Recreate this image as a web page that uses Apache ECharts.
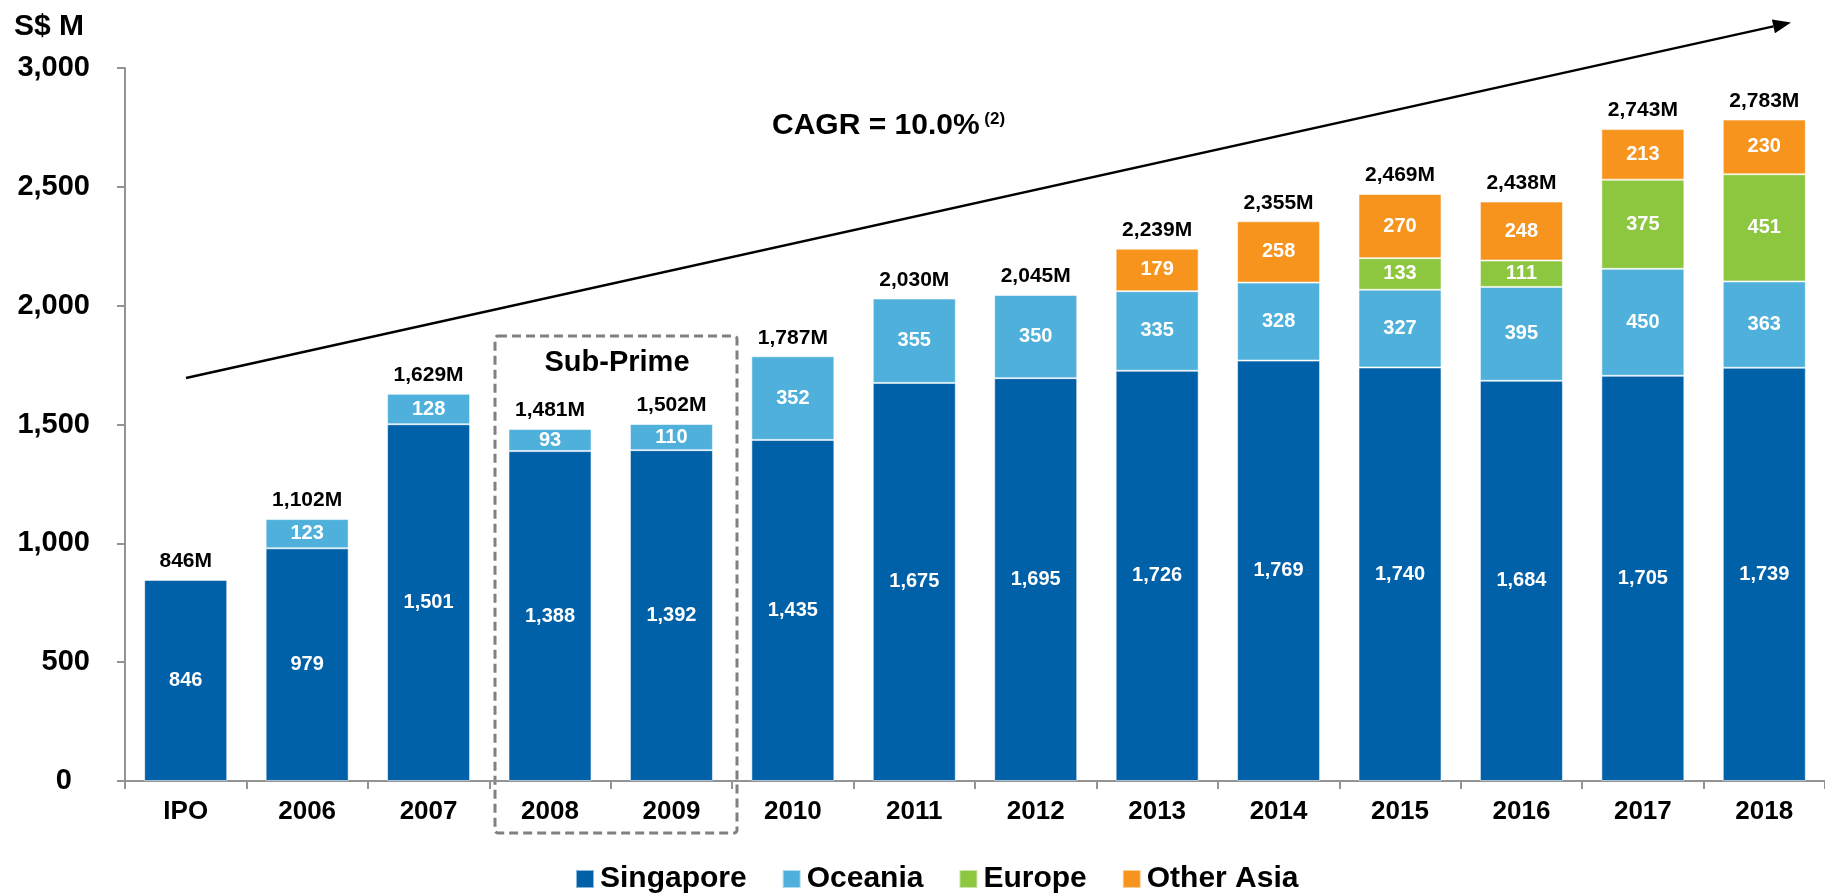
<!DOCTYPE html>
<html>
<head>
<meta charset="utf-8">
<script src="https://cdn.jsdelivr.net/npm/echarts@6/dist/echarts.min.js"></script>
<style>
html,body{margin:0;padding:0;background:#fff;}
#chart{width:1825px;height:893px;}
</style>
</head>
<body>
<div id="chart"></div>
<script>
const categories = ['IPO','2006','2007','2008','2009','2010','2011','2012','2013','2014','2015','2016','2017','2018'];
const singapore = [846, 979, 1501, 1388, 1392, 1435, 1675, 1695, 1726, 1769, 1740, 1684, 1705, 1739];
const oceania   = [null, 123, 128, 93, 110, 352, 355, 350, 335, 328, 327, 395, 450, 363];
const europe    = [null, null, null, null, null, null, null, null, null, null, 133, 111, 375, 451];
const otherAsia = [null, null, null, null, null, null, null, null, 179, 258, 270, 248, 213, 230];
const totals    = [846, 1102, 1629, 1481, 1502, 1787, 2030, 2045, 2239, 2355, 2469, 2438, 2743, 2783];
const yTicks = {min: 0, max: 3000, interval: 500};

const FONT = "'Liberation Sans', Arial, Helvetica, sans-serif";
const colors = {Singapore:'#0061A8', Oceania:'#4FB1DB', Europe:'#8DC63F', 'Other Asia':'#F7941E'};

function fmt(v){ return v.toLocaleString('en-US'); }

const innerLabel = {
  show: true, position: 'inside', color: '#fff', fontFamily: FONT,
  fontWeight: 'bold', fontSize: 20, formatter: p => fmt(p.value)
};
function barSeries(name, data){
  return {
    name, type: 'bar', stack: 'total', data, barWidth: 83,
    itemStyle: {color: colors[name], borderColor: 'rgba(255,255,255,0.55)', borderWidth: 1},
    label: innerLabel, silent: true, emphasis: {disabled: true}
  };
}

const chart = echarts.init(document.getElementById('chart'), null, {renderer: 'canvas'});

// arrow geometry
const A0 = [186, 378], tip = [1791, 22.5];
const dx = tip[0]-A0[0], dy = tip[1]-A0[1], L = Math.hypot(dx, dy);
const ux = dx/L, uy = dy/L, nx = -uy, ny = ux;
const headLen = 18, headHalf = 7;
const base = [tip[0]-headLen*ux, tip[1]-headLen*uy];

chart.setOption({
  animation: false,
  textStyle: {fontFamily: FONT},
  grid: {left: 125, right: -13, top: 68, bottom: 112, containLabel: false},
  legend: {
    data: ['Singapore','Oceania','Europe','Other Asia'],
    left: 570, top: 859, itemWidth: 18, itemHeight: 18, itemGap: 35,
    icon: 'rect', selectedMode: false,
    textStyle: {fontSize: 30, fontWeight: 'bold', color: '#000', fontFamily: FONT, padding: [0,0,0,1]}
  },
  xAxis: {
    type: 'category', data: categories, boundaryGap: true,
    axisLine: {show: true, lineStyle: {color: '#939393', width: 2}},
    axisTick: {show: true, length: 8, interval: 0, alignWithLabel: false, lineStyle: {color: '#939393', width: 2}},
    axisLabel: {interval: 0, margin: 18, color: '#000', fontSize: 26, fontWeight: 'bold', fontFamily: FONT}
  },
  yAxis: {
    type: 'value', min: yTicks.min, max: yTicks.max, interval: yTicks.interval,
    splitLine: {show: false},
    axisLine: {show: true, lineStyle: {color: '#939393', width: 2}},
    axisTick: {show: true, length: 8, lineStyle: {color: '#939393', width: 2}},
    axisLabel: {
      margin: 35, color: '#000', fontSize: 29, fontWeight: 'bold', fontFamily: FONT,
      formatter: v => v === 0 ? '{z|0}' : fmt(v),
      rich: {z: {fontSize: 29, fontWeight: 'bold', color: '#000', fontFamily: FONT, padding: [0, 18, 0, 0]}}
    }
  },
  series: [
    barSeries('Singapore', singapore),
    barSeries('Oceania', oceania),
    barSeries('Europe', europe),
    barSeries('Other Asia', otherAsia),
    {
      name: 'Total', type: 'scatter', data: totals, symbol: 'rect', symbolSize: 0.01,
      itemStyle: {color: '#000', opacity: 1}, silent: true, z: 5,
      label: {show: true, position: 'top', distance: 8, color: '#000', opacity: 1, fontSize: 21,
              fontWeight: 'bold', fontFamily: FONT, formatter: p => fmt(p.value) + 'M'}
    }
  ],
  graphic: [
    {type: 'text', left: 14, top: 12, style: {text: 'S$ M', font: 'bold 30px ' + FONT, fill: '#000'}},
    {type: 'line', shape: {x1: A0[0], y1: A0[1], x2: base[0], y2: base[1]},
     style: {stroke: '#000', lineWidth: 2.5}},
    {type: 'polygon', shape: {points: [tip,
        [base[0]+headHalf*nx, base[1]+headHalf*ny],
        [base[0]-headHalf*nx, base[1]-headHalf*ny]]},
     style: {fill: '#000'}},
    {type: 'text', x: 772, y: 126,
     style: {text: '{m|CAGR = 10.0%}{s| (2)}', verticalAlign: 'middle', align: 'left',
       rich: {m: {font: 'bold 30px ' + FONT, fill: '#000', verticalAlign: 'middle'},
              s: {font: 'bold 17px ' + FONT, fill: '#000', padding: [0,0,14,0], verticalAlign: 'middle'}}}},
    {type: 'rect', shape: {x: 495, y: 336, width: 242, height: 497, r: 3},
     style: {fill: 'none', stroke: '#808080', lineWidth: 3, lineDash: [9, 5]}},
    {type: 'text', x: 617, y: 363,
     style: {text: 'Sub-Prime', font: 'bold 29px ' + FONT, fill: '#000', align: 'center', verticalAlign: 'middle'}}
  ]
});
</script>
</body>
</html>
